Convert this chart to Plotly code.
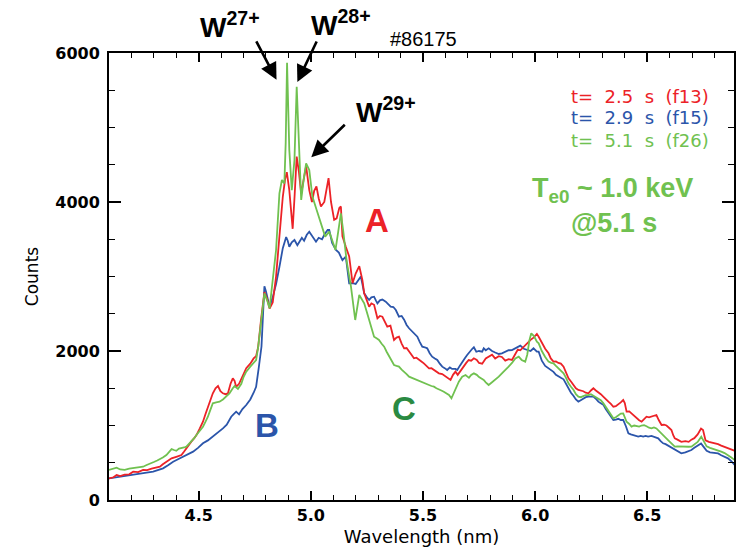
import plotly.graph_objects as go

# ---------------- data ----------------
wl_red = [4.10, 4.12, 4.134, 4.15, 4.17, 4.19, 4.208, 4.23, 4.252, 4.27, 4.29, 4.31, 4.327, 4.34, 4.356,
          4.369, 4.379, 4.40, 4.423, 4.435, 4.445, 4.455, 4.467, 4.48, 4.49, 4.505, 4.519, 4.53, 4.541,
          4.553, 4.563, 4.575, 4.586, 4.597, 4.608, 4.62, 4.63, 4.642, 4.652, 4.66, 4.667, 4.68, 4.70,
          4.712, 4.73, 4.745, 4.756, 4.765, 4.778, 4.793, 4.805, 4.816, 4.83, 4.845, 4.86, 4.875, 4.885,
          4.893, 4.904, 4.919, 4.928, 4.937, 4.947, 4.957, 4.968, 4.979, 4.993, 5.005, 5.015, 5.025,
          5.035, 5.045, 5.06, 5.07, 5.079, 5.09, 5.104, 5.115, 5.127, 5.134, 5.141, 5.156, 5.171, 5.186,
          5.2, 5.216, 5.23, 5.238, 5.25, 5.26, 5.27, 5.282, 5.297, 5.308, 5.319, 5.33, 5.341, 5.355,
          5.371, 5.382, 5.393, 5.405, 5.416, 5.427, 5.438, 5.45, 5.46, 5.471, 5.482, 5.493, 5.504, 5.515,
          5.527, 5.538, 5.549, 5.56, 5.571, 5.586, 5.601, 5.612, 5.623, 5.634, 5.645, 5.655, 5.668, 5.682,
          5.693, 5.704, 5.715, 5.727, 5.74, 5.75, 5.764, 5.78, 5.793, 5.808, 5.822, 5.838, 5.852, 5.867,
          5.882, 5.897, 5.91, 5.923, 5.934, 5.95, 5.965, 5.98, 5.993, 6.008, 6.016, 6.03, 6.045, 6.06,
          6.07, 6.082, 6.093, 6.104, 6.115, 6.127, 6.138, 6.149, 6.16, 6.171, 6.182, 6.193, 6.204, 6.215,
          6.226, 6.238, 6.249, 6.26, 6.271, 6.282, 6.293, 6.304, 6.315, 6.327, 6.338, 6.349, 6.36, 6.371,
          6.382, 6.393, 6.40, 6.408, 6.42, 6.431, 6.442, 6.453, 6.464, 6.475, 6.486, 6.497, 6.508, 6.519,
          6.53, 6.541, 6.552, 6.564, 6.575, 6.586, 6.597, 6.608, 6.616, 6.623, 6.635, 6.645, 6.652, 6.67,
          6.685, 6.697, 6.71, 6.725, 6.74, 6.749, 6.76, 6.775, 6.79, 6.80, 6.816, 6.83, 6.845, 6.86,
          6.875, 6.89]
cnt_red = [290, 305, 336, 320, 340, 345, 380, 375, 403, 400, 420, 430, 447, 480, 514,
           530, 559, 580, 604, 650, 694, 730, 783, 830, 872, 960, 1051, 1150, 1252,
           1350, 1432, 1500, 1530, 1460, 1432, 1420, 1430, 1560, 1633, 1600, 1520, 1560, 1700,
           1770, 1830, 1900, 1930, 2050, 2420, 2790, 2700, 2570, 2650, 3000, 3540, 4070, 4300,
           4400, 4160, 3640, 4100, 4610, 4400, 4110, 4300, 4480, 4160, 4000, 4150, 4210,
           4050, 3940, 4000, 4200, 4320, 4000, 3760, 3780, 3920, 3940, 3540, 3400, 3270, 2910,
           3040, 3140, 2950, 2774, 2680, 2595, 2640, 2620, 2439, 2470, 2460, 2400, 2326, 2340,
           2148, 2180, 2192, 2100, 2036, 2040, 1991, 1950, 1902, 1910, 1879, 1860, 1834, 1800,
           1767, 1770, 1745, 1720, 1700, 1690, 1655, 1630, 1611, 1680, 1723, 1680, 1740, 1790,
           1840, 1879, 1870, 1902, 1880, 1840, 1830, 1900, 1920, 1950, 1900, 1930, 1920, 1870,
           1890, 1880, 1950, 2020, 2010, 2060, 2100, 2150, 2180, 2230, 2192, 2110, 2030, 1969,
           1900, 1857, 1860, 1840, 1830, 1790, 1700, 1633, 1590, 1544, 1500, 1477, 1470, 1460,
           1440, 1432, 1470, 1499, 1470, 1450, 1420, 1387, 1350, 1320, 1290, 1252, 1260, 1280,
           1310, 1342, 1300, 1186, 1190, 1160, 1130, 1096, 1070, 1051, 1090, 1118, 1110, 1120,
           1130, 1141, 1070, 1007, 1010, 1000, 970, 940, 870, 828, 810, 795, 780, 790,
           780, 810, 830, 880, 960, 940, 800, 780, 770, 760, 750, 730, 710, 690,
           680, 660]

wl_blue = [4.10, 4.125, 4.149, 4.17, 4.19, 4.208, 4.23, 4.252, 4.275, 4.297, 4.32, 4.341, 4.365, 4.386,
           4.41, 4.43, 4.453, 4.475, 4.497, 4.519, 4.541, 4.563, 4.585, 4.608, 4.625, 4.645, 4.655, 4.667,
           4.68, 4.695, 4.712, 4.73, 4.745, 4.756, 4.768, 4.78, 4.787, 4.793, 4.80, 4.81, 4.816, 4.83,
           4.845, 4.86, 4.875, 4.89, 4.897, 4.904, 4.915, 4.927, 4.94, 4.95, 4.96, 4.97, 4.982, 4.993,
           5.005, 5.015, 5.023, 5.035, 5.05, 5.062, 5.075, 5.082, 5.095, 5.112, 5.125, 5.141, 5.156, 5.171,
           5.186, 5.2, 5.212, 5.223, 5.23, 5.238, 5.25, 5.26, 5.27, 5.282, 5.29, 5.297, 5.308, 5.319,
           5.334, 5.345, 5.356, 5.368, 5.379, 5.393, 5.405, 5.416, 5.427, 5.438, 5.453, 5.464, 5.475,
           5.486, 5.497, 5.508, 5.519, 5.53, 5.541, 5.553, 5.564, 5.575, 5.586, 5.597, 5.608, 5.62, 5.63,
           5.645, 5.653, 5.664, 5.675, 5.686, 5.697, 5.71, 5.72, 5.727, 5.738, 5.75, 5.764, 5.771, 5.78,
           5.793, 5.808, 5.822, 5.838, 5.852, 5.867, 5.882, 5.897, 5.915, 5.934, 5.95, 5.965, 5.98, 5.993,
           6.008, 6.016, 6.03, 6.045, 6.06, 6.072, 6.082, 6.093, 6.104, 6.115, 6.127, 6.138, 6.149, 6.16,
           6.171, 6.182, 6.193, 6.204, 6.215, 6.226, 6.238, 6.249, 6.26, 6.271, 6.282, 6.293, 6.304, 6.315,
           6.327, 6.338, 6.349, 6.36, 6.371, 6.382, 6.393, 6.405, 6.416, 6.427, 6.438, 6.449, 6.46, 6.471,
           6.482, 6.493, 6.504, 6.519, 6.53, 6.541, 6.549, 6.56, 6.571, 6.582, 6.593, 6.605, 6.616, 6.625,
           6.64, 6.652, 6.67, 6.685, 6.697, 6.71, 6.725, 6.74, 6.75, 6.765, 6.78, 6.80, 6.816, 6.83,
           6.845, 6.86, 6.875, 6.89]
cnt_blue = [290, 300, 313, 320, 330, 336, 345, 358, 370, 380, 400, 425, 470, 514,
            550, 581, 615, 649, 700, 761, 800, 850, 900, 962, 1010, 1118, 1150, 1186,
            1150, 1220, 1275, 1350, 1440, 1520, 1780, 2060, 2500, 2870, 2800, 2640, 2595, 2720,
            2900, 3130, 3380, 3530, 3480, 3400, 3460, 3490, 3420, 3470, 3520, 3480, 3560, 3600,
            3540, 3500, 3467, 3520, 3500, 3570, 3624, 3624, 3450, 3356, 3320, 3220, 3266, 2908,
            2910, 2900, 2960, 3000, 2900, 2774, 2720, 2685, 2720, 2729, 2680, 2640, 2680, 2690,
            2662, 2630, 2595, 2590, 2550, 2460, 2470, 2420, 2350, 2305, 2260, 2230, 2192,
            2120, 2058, 2050, 2036, 1970, 1924, 1900, 1879, 1830, 1790, 1770, 1745, 1780, 1760,
            1760, 1745, 1800, 1857, 1900, 1946, 2000, 2030, 2050, 1990, 2000, 1991, 2036, 2010,
            2036, 2000, 1980, 1960, 1969, 1990, 2010, 2013, 2040, 2072, 2030, 2013, 2000, 2036,
            1991, 1991, 1870, 1800, 1767, 1740, 1720, 1680, 1655, 1640, 1620, 1560, 1499, 1440,
            1400, 1350, 1320, 1340, 1370, 1380, 1387, 1387, 1387, 1360, 1320, 1300, 1280, 1220,
            1163, 1110, 1074, 1080, 1090, 1074, 1074, 990, 895, 880, 870, 865, 850, 860,
            850, 860, 850, 860, 850, 840, 828, 790, 761, 750, 730, 710, 694, 680,
            650, 626, 640, 660, 671, 700, 730, 760, 720, 660, 640, 630, 626, 600,
            580, 559, 520, 470]

wl_green = [4.10, 4.12, 4.134, 4.15, 4.17, 4.19, 4.208, 4.23, 4.252, 4.268, 4.282, 4.30, 4.315, 4.327,
            4.34, 4.356, 4.368, 4.379, 4.39, 4.40, 4.412, 4.423, 4.435, 4.445, 4.456, 4.467, 4.48, 4.49,
            4.505, 4.519, 4.53, 4.541, 4.552, 4.563, 4.578, 4.593, 4.608, 4.623, 4.637, 4.652, 4.66, 4.675,
            4.69, 4.70, 4.712, 4.73, 4.745, 4.756, 4.765, 4.778, 4.793, 4.805, 4.816, 4.83, 4.845, 4.86,
            4.871, 4.882, 4.888, 4.894, 4.899, 4.904, 4.915, 4.927, 4.937, 4.947, 4.957, 4.968, 4.979,
            4.993, 5.007, 5.026, 5.045, 5.064, 5.082, 5.095, 5.11, 5.122, 5.134, 5.145, 5.16, 5.179,
            5.198, 5.216, 5.228, 5.238, 5.249, 5.26, 5.271, 5.282, 5.293, 5.304, 5.315, 5.327, 5.338,
            5.349, 5.36, 5.371, 5.382, 5.393, 5.405, 5.416, 5.427, 5.438, 5.449, 5.46, 5.471, 5.482,
            5.493, 5.504, 5.515, 5.527, 5.538, 5.549, 5.56, 5.571, 5.582, 5.593, 5.604, 5.616, 5.627,
            5.636, 5.645, 5.653, 5.66, 5.675, 5.69, 5.705, 5.715, 5.727, 5.74, 5.75, 5.771, 5.78, 5.793,
            5.808, 5.822, 5.838, 5.852, 5.867, 5.882, 5.897, 5.912, 5.927, 5.94, 5.956, 5.965, 5.975,
            5.983, 5.995, 6.008, 6.016, 6.03, 6.045, 6.06, 6.072, 6.082, 6.093, 6.104, 6.115, 6.127,
            6.138, 6.149, 6.16, 6.171, 6.182, 6.193, 6.204, 6.215, 6.226, 6.238, 6.249, 6.26, 6.271,
            6.282, 6.293, 6.304, 6.315, 6.327, 6.338, 6.349, 6.36, 6.371, 6.382, 6.393, 6.40, 6.408,
            6.42, 6.43, 6.442, 6.453, 6.464, 6.475, 6.486, 6.497, 6.508, 6.519, 6.53, 6.541, 6.552,
            6.564, 6.578, 6.593, 6.608, 6.623, 6.635, 6.652, 6.67, 6.685, 6.697, 6.71, 6.725, 6.741,
            6.75, 6.765, 6.78, 6.80, 6.816, 6.83, 6.845, 6.86, 6.875, 6.89]
cnt_green = [403, 420, 434, 410, 405, 420, 425, 435, 447, 470, 492, 510, 530, 546,
             570, 604, 640, 684, 671, 660, 690, 694, 705, 716, 750, 783, 830, 872,
             930, 984, 1050, 1118, 1210, 1298, 1310, 1320, 1350, 1387, 1430, 1499, 1530, 1490,
             1560, 1650, 1722, 1790, 1840, 1879, 2050, 2416, 2774, 2680, 2573, 2953, 3356, 4117,
             4295, 4250, 4800, 5870, 5300, 4698, 4160, 4564, 5548, 4698, 4027, 4300, 4520,
             4430, 4072, 3893, 3714, 3535, 3602, 3500, 3356, 3600, 3848, 3600, 3200, 2863,
             2416, 2752, 2700, 2640, 2530, 2416, 2300, 2192, 2170, 2148, 2100, 2058, 1990,
             1924, 1860, 1812, 1800, 1790, 1750, 1723, 1690, 1655, 1640, 1633, 1620, 1600,
             1580, 1566, 1555, 1544, 1530, 1521, 1500, 1490, 1470, 1454, 1430, 1409, 1365,
             1420, 1477, 1530, 1588, 1655, 1678, 1640, 1680, 1700, 1680, 1650, 1611, 1580, 1544,
             1580, 1610, 1655, 1700, 1740, 1790, 1840, 1900, 1924, 1880, 1857, 1950, 2150,
             2237, 2200, 2125, 2103, 2000, 1920, 1857, 1840, 1834, 1800, 1767, 1740, 1700,
             1640, 1566, 1520, 1480, 1420, 1387, 1380, 1400, 1409, 1409, 1420, 1400, 1380,
             1365, 1340, 1300, 1250, 1208, 1150, 1096, 1110, 1140, 1160, 1163, 1100, 1050,
             1020, 984, 1000, 990, 985, 1000, 1005, 990, 970, 962, 975, 960, 930,
             895, 850, 805, 760, 716, 720, 716, 720, 715, 716, 750, 780, 850,
             800, 720, 700, 680, 671, 650, 630, 604, 570, 537]

legend_lines = ["t=&nbsp; 2.5&nbsp; s&nbsp; (f13)", "t=&nbsp; 2.9&nbsp; s&nbsp; (f15)", "t=&nbsp; 5.1&nbsp; s&nbsp; (f26)"]
x_range = [4.1, 6.887]
y_range = [0, 6000]

# ---------------- style ----------------
RED = "#EC2227"
BLUE = "#2B55AA"
GREEN = "#70C150"
DKGREEN = "#2A8A42"
FONT = "DejaVu Sans"
BOLD = "Liberation Sans"

L, R, T, B = 109, 736, 53, 500


def pp(xp, yp):
    return (xp - L) / (R - L), (B - yp) / (B - T)


fig = go.Figure()
for wl, cnt, col in [(wl_blue, cnt_blue, BLUE), (wl_red, cnt_red, RED), (wl_green, cnt_green, GREEN)]:
    fig.add_trace(go.Scatter(x=wl, y=cnt, mode="lines", line=dict(color=col, width=1.8), hoverinfo="skip"))

annotations = []


def txt(text, xp, yp, size, color, family=BOLD, weight="bold", xanchor="center"):
    x, y = pp(xp, yp)
    annotations.append(dict(text=text, x=x, y=y, xref="paper", yref="paper", showarrow=False,
                            xanchor=xanchor, yanchor="middle",
                            font=dict(size=size, color=color, family=family, weight=weight)))


txt("#86175", 425, 39, 20, "black", family="Liberation Sans", weight="normal")
txt("W<sup>27+</sup>", 230, 25, 28, "black")
txt("W<sup>28+</sup>", 342, 23, 28, "black")
txt("W<sup>29+</sup>", 387, 110, 28, "black")
for i, (line, col) in enumerate(zip(legend_lines, [RED, BLUE, GREEN])):
    txt(line, 713, 96 + 22 * i, 18, col, family=FONT, weight="normal", xanchor="right")
txt("T<sub>e0</sub> ~ 1.0 keV", 614, 190, 27, GREEN)
txt("@5.1 s", 616, 223, 27, GREEN)
txt("A", 378, 220, 33, RED)
txt("B", 268, 425, 33, BLUE)
txt("C", 405, 408, 33, DKGREEN)

for (tx, ty, ax, ay) in [(4.847, 5640, -21, -40), (4.94, 5610, 20, -42), (5.002, 4600, 35, -34)]:
    annotations.append(dict(x=tx, y=ty, xref="x", yref="y", ax=ax, ay=ay, axref="pixel", ayref="pixel",
                            text="", showarrow=True, arrowhead=2, arrowsize=1.3, arrowwidth=2.6,
                            arrowcolor="black"))

axis_common = dict(showline=True, linewidth=2, linecolor="black", mirror="ticks", ticks="inside",
                   tickcolor="black", showgrid=False, zeroline=False,
                   tickfont=dict(family=FONT, size=16, color="black", weight="bold"))

fig.update_layout(
    width=736, height=557,
    margin=dict(l=L, r=736 - R, t=T, b=557 - B),
    paper_bgcolor="white", plot_bgcolor="white",
    showlegend=False,
    annotations=annotations,
    xaxis=dict(range=x_range, tick0=0, dtick=0.5, tickformat=".1f", ticklen=9, tickwidth=1.5,
               minor=dict(dtick=0.1, ticklen=5, tickwidth=1.2, ticks="inside", tickcolor="black"),
               title=dict(text="Wavelength (nm)", font=dict(family=FONT, size=18, color="black"), standoff=6),
               **axis_common),
    yaxis=dict(range=y_range, tick0=0, dtick=2000, ticklen=12, tickwidth=1.5, ticklabelstandoff=4,
               minor=dict(dtick=500, ticklen=6, tickwidth=1.2, ticks="inside", tickcolor="black"),
               title=dict(text="Counts", font=dict(family=FONT, size=17, color="black"), standoff=12),
               **axis_common),
)

fig.write_html("out.html")
